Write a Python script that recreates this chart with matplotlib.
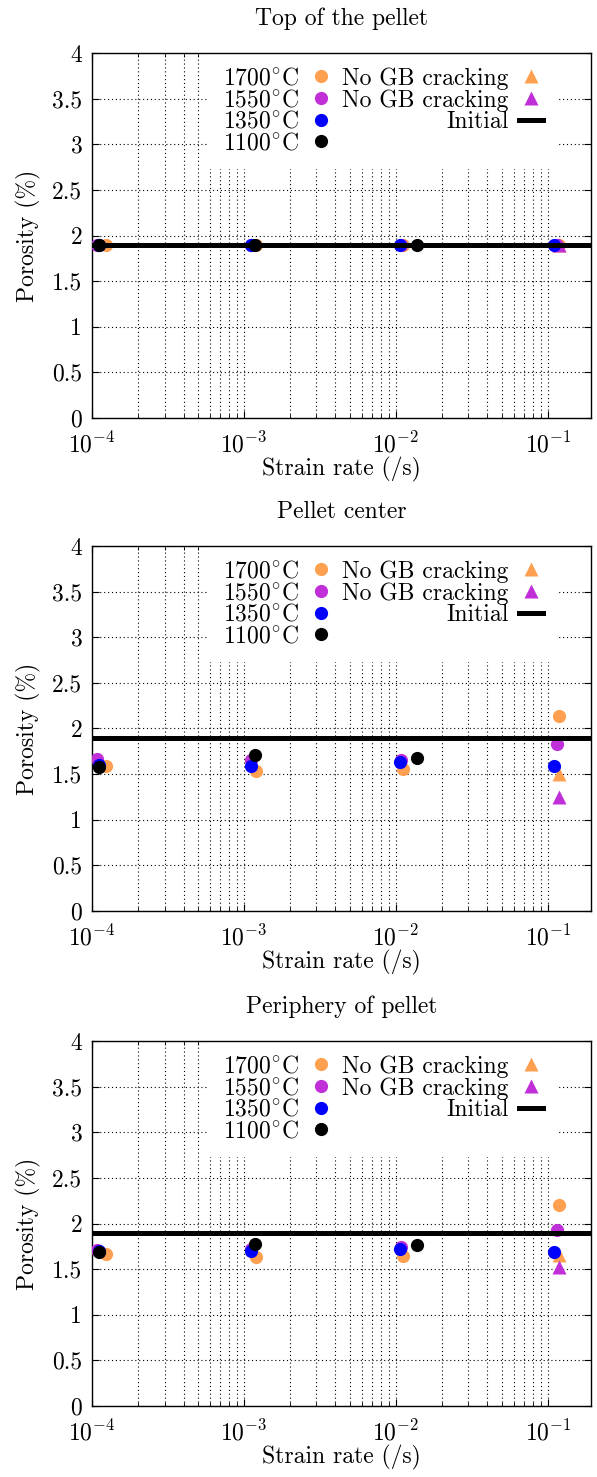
import numpy as np
import matplotlib
matplotlib.use('Agg')
import matplotlib.pyplot as plt

plt.rcParams['font.family'] = ['cmr10', 'DejaVu Serif']
plt.rcParams['mathtext.fontset'] = 'cm'
plt.rcParams['axes.formatter.use_mathtext'] = True
plt.rcParams['font.size'] = 17

titles = ['Top of the pellet', 'Pellet center', 'Periphery of pellet']
labels = ['$1700^{\\circ}$C', '$1550^{\\circ}$C', '$1350^{\\circ}$C', '$1100^{\\circ}$C']
colors = ['#ffa050', '#c02fd8', '#0000ff', '#000000']
initial = 1.9

# strain rates per temperature
rate_1700 = [1.23e-4, 1.2e-3, 1.11e-2, 0.118]
rate_1550 = [1.08e-4, 1.11e-3, 1.08e-2, 0.115]
rate_1350 = [1.12e-4, 1.12e-3, 1.07e-2, 0.109]
rate_1100 = [1.12e-4, 1.18e-3, 1.37e-2]
rate_nogb = [0.118]

# porosity per panel (top, center, periphery)
por_1700 = [[1.9, 1.9, 1.9, 1.9], [1.584, 1.536, 1.555, 2.139], [1.665, 1.629, 1.644, 2.207]]
por_1550 = [[1.9, 1.9, 1.9, 1.9], [1.67, 1.66, 1.65, 1.83], [1.709, 1.72, 1.738, 1.927]]
por_1350 = [[1.9, 1.9, 1.9, 1.9], [1.60, 1.59, 1.635, 1.584], [1.70, 1.70, 1.716, 1.69]]
por_1100 = [[1.9, 1.9, 1.9], [1.573, 1.708, 1.679], [1.69, 1.78, 1.76]]
nogb_1700 = [[1.9], [1.50], [1.655]]
nogb_1550 = [[1.9], [1.245], [1.52]]

rates = [rate_1700, rate_1550, rate_1350, rate_1100]
pors = [por_1700, por_1550, por_1350, por_1100]

fig = plt.figure(figsize=(5.97, 14.77), dpi=100)
H = 1477.0
tops = [53, 546, 1041]
left, right = 92 / 597, 591 / 597

for k in range(3):
    top = tops[k]
    ax = fig.add_axes([left, 1 - (top + 365) / H, right - left, 365 / H])
    ax.set_xscale('log')
    ax.set_xlim(1e-4, 0.192)
    ax.set_ylim(0, 4)
    ax.set_yticks(np.arange(0, 4.01, 0.5))
    ax.set_yticklabels(['0', '0.5', '1', '1.5', '2', '2.5', '3', '3.5', '4'])
    ax.grid(True, which='both', color='black', linestyle=(0, (1, 2.5)), linewidth=0.8, zorder=0)
    ax.set_axisbelow(True)
    ax.tick_params(which='both', direction='in', top=True, right=True)
    ax.tick_params(which='major', length=5)
    ax.tick_params(which='minor', length=3)
    ax.tick_params(axis='x', pad=10)
    ax.tick_params(axis='y', pad=7)
    for s in ax.spines.values():
        s.set_linewidth(1.0)

    h = []
    for i in range(4):
        p, = ax.plot(rates[i], pors[i][k], 'o', color=colors[i], ms=9.5, mec='none',
                     label=labels[i], zorder=3 + i * 0.1)
        h.append(p)
    t1, = ax.plot(rate_nogb, nogb_1700[k], '^', color=colors[0], ms=9.5, mec='none',
                  label='No GB cracking', zorder=3)
    t2, = ax.plot(rate_nogb, nogb_1550[k], '^', color=colors[1], ms=9.5, mec='none',
                  label='No GB cracking', zorder=3)
    ln = ax.axhline(initial, color='black', lw=3.6, label='Initial', zorder=3.25)
    h[3].set_zorder(3.5)

    leg = ax.legend(h + [t1, t2, ln], labels + ['No GB cracking', 'No GB cracking', 'Initial'],
                    ncol=2, markerfirst=False, loc='upper right',
                    bbox_to_anchor=(0.933, 1.0), borderaxespad=0.0, borderpad=0.6,
                    frameon=True, fancybox=False, edgecolor='none', framealpha=1.0,
                    handlelength=1.05, handletextpad=0.42, columnspacing=0.36,
                    labelspacing=-0.02, fontsize=17)
    leg.set_zorder(2)

    ax.set_title(titles[k], fontsize=17, pad=20)
    ax.set_ylabel('Porosity (%)', fontsize=17, labelpad=8)
    ax.set_xlabel('Strain rate (/s)', fontsize=17, labelpad=0)

fig.savefig('out.png', dpi=100)
